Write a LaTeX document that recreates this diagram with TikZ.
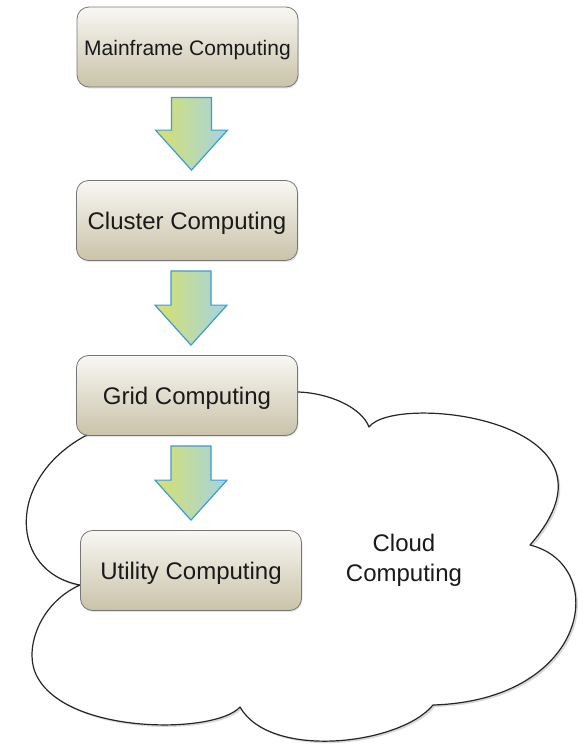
\documentclass[tikz,border=0pt]{standalone}
\usepackage{fontspec}
\setmainfont{Liberation Sans}
\usetikzlibrary{calc,shadows}
\definecolor{boxtop}{HTML}{F8F7F3}
\definecolor{boxbot}{HTML}{CAC3A9}
\definecolor{boxedge}{HTML}{767676}
\definecolor{arrL}{HTML}{D9E06C}
\definecolor{arrR}{HTML}{A3D4E2}
\definecolor{arrEdge}{HTML}{3C9CD9}
\definecolor{txt}{HTML}{1A1A1A}
\newcommand{\lowtext}[1]{\raisebox{-3pt}[\height][\depth]{#1}}
\begin{document}
\begin{tikzpicture}[x=1pt,y=-1pt,
  stagebox/.style={draw=boxedge, line width=0.8pt, rounded corners=12pt,
    top color=boxtop, bottom color=boxbot, minimum width=221pt, minimum height=80pt,
    inner sep=0pt, font=\fontsize{24}{28}\selectfont, text=txt,
    drop shadow={opacity=0.2, shadow xshift=1pt, shadow yshift=-1.5pt}},
  blockarrow/.style={draw=arrEdge, line width=1.2pt, left color=arrL, right color=arrR, line join=miter},
  cloudline/.style={draw=black!85, line width=1.2pt, fill=white, line join=round,
    drop shadow={opacity=0.3, shadow xshift=2pt, shadow yshift=-2pt}},
  cloudtext/.style={font=\fontsize{24}{30}\selectfont, text=txt, align=center}]
\useasboundingbox (0,0) rectangle (586,745);

% cloud
\path[cloudline] (298,392) .. controls (330,393) and (362,408) .. (369,427)
 .. controls (395,392) and (640,420) .. (530,545)
 .. controls (610,565) and (590,700) .. (433,705)
 .. controls (400,745) and (270,760) .. (240,707)
 .. controls (215,735) and (60,735) .. (35,672)
 .. controls (25,647) and (40,603) .. (80,585)
 .. controls (10,572) and (5,480) .. (85,436)
 -- (150,420) -- (290,400) -- cycle;

\node[cloudtext] (cl) at (404,560) {Cloud\\Computing};

% stages
\node[stagebox, font=\fontsize{21}{25}\selectfont] (m) at (187.5,47) {\lowtext{Mainframe Computing}};
\node[stagebox] (c) at (187,220.5) {\lowtext{Cluster Computing}};
\node[stagebox] (g) at (187,395.5) {\lowtext{Grid Computing}};
\node[stagebox] (u) at (191,570.5) {\lowtext{Utility Computing}};

% block arrows
\foreach \a/\b in {m/c,c/g,g/u} {
  \path let \p1=($(\a.south)+(4,10)$), \p2=($(\b.north)+(4,-10)$) in
    [blockarrow] (\x1-20pt,\y1) -- (\x1+20pt,\y1) -- (\x1+20pt,\y2+40pt)
    -- (\x1+36pt,\y2+40pt) -- (\x1,\y2) -- (\x1-36pt,\y2+40pt)
    -- (\x1-20pt,\y2+40pt) -- cycle;
}
\end{tikzpicture}
\end{document}
